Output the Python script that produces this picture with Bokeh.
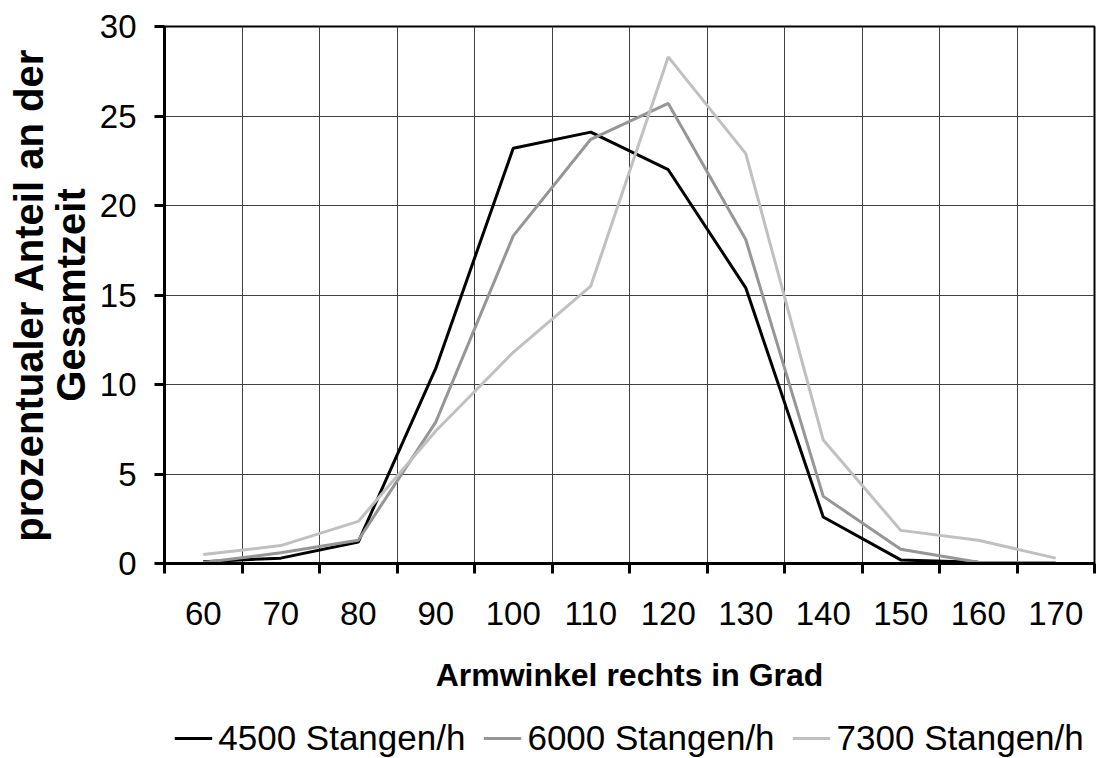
from bokeh.plotting import figure
from bokeh.layouts import column
from bokeh.models import (Range1d, FixedTicker, Legend, LegendItem, LinearAxis, Grid)
from bokeh.embed import file_html
from bokeh.resources import INLINE

# ---- data ----
categories = ["60", "70", "80", "90", "100", "110", "120", "130", "140", "150", "160", "170"]
s4500 = [0.1, 0.3, 1.2, 10.9, 23.2, 24.1, 22.0, 15.4, 2.6, 0.2, 0.07, 0.0]
s6000 = [0.05, 0.6, 1.3, 7.9, 18.3, 23.7, 25.7, 18.1, 3.75, 0.8, 0.07, 0.05]
s7300 = [0.5, 1.0, 2.35, 7.4, 11.8, 15.5, 28.3, 22.9, 6.9, 1.85, 1.3, 0.3]
series_names = ["4500 Stangen/h", "6000 Stangen/h", "7300 Stangen/h"]
series_colors = ["#000000", "#969696", "#c0c0c0"]
y_ticks = [0, 5, 10, 15, 20, 25, 30]
x_title = "Armwinkel rechts in Grad"
y_title = "prozentualer Anteil an der\nGesamtzeit"

FONT = "Liberation Sans"
n = len(categories)
xs = [i + 0.5 for i in range(n)]

p = figure(width=1096, height=700, output_backend="svg", toolbar_location=None,
           x_range=Range1d(0, n), y_range=Range1d(0, 30),
           min_border_left=164, min_border_right=2, min_border_top=26,
           min_border_bottom=137, x_axis_type=None, y_axis_type=None)
p.background_fill_color = "white"
p.border_fill_color = "white"
p.outline_line_color = "black"
p.outline_line_width = 2

# grid lines at category boundaries and y ticks
p.add_layout(Grid(dimension=0, ticker=FixedTicker(ticks=list(range(n + 1))),
                  grid_line_color="#404040", grid_line_width=1))
p.add_layout(Grid(dimension=1, ticker=FixedTicker(ticks=y_ticks),
                  grid_line_color="#404040", grid_line_width=1))

# x axis: labels at category centres, ticks at boundaries (minor ticks)
xaxis = LinearAxis(ticker=FixedTicker(ticks=xs, minor_ticks=list(range(n + 1))))
xaxis.major_label_overrides = {x: c for x, c in zip(xs, categories)}
xaxis.major_tick_out = 0
xaxis.major_tick_in = 0
xaxis.minor_tick_out = 10
xaxis.minor_tick_in = 0
xaxis.minor_tick_line_width = 3
xaxis.minor_tick_line_color = "black"
xaxis.axis_line_width = 3
xaxis.axis_line_color = "black"
xaxis.major_label_standoff = 28
xaxis.major_label_text_font = FONT
xaxis.major_label_text_font_size = "33px"
xaxis.major_label_text_color = "black"
xaxis.axis_label = x_title
xaxis.axis_label_text_font = FONT
xaxis.axis_label_text_font_size = "32px"
xaxis.axis_label_text_font_style = "bold"
xaxis.axis_label_text_color = "black"
xaxis.axis_label_standoff = 29
p.add_layout(xaxis, "below")

yaxis = LinearAxis(ticker=FixedTicker(ticks=y_ticks))
yaxis.major_tick_out = 10
yaxis.major_tick_in = 0
yaxis.major_tick_line_width = 3
yaxis.minor_tick_out = 0
yaxis.minor_tick_in = 0
yaxis.axis_line_width = 3
yaxis.major_label_standoff = 18
yaxis.major_label_text_font = FONT
yaxis.major_label_text_font_size = "33px"
yaxis.major_label_text_color = "black"
yaxis.axis_label = y_title
yaxis.axis_label_text_font = FONT
yaxis.axis_label_text_font_size = "40px"
yaxis.axis_label_text_font_style = "bold"
yaxis.axis_label_text_color = "black"
yaxis.axis_label_text_line_height = 0.95
yaxis.axis_label_standoff = 4
p.add_layout(yaxis, "left")

for name, col, vals in zip(series_names, series_colors, [s4500, s6000, s7300]):
    p.line(xs, vals, line_color=col, line_width=3)

# ---- legend strip below the chart (same side borders, so frames align) ----
pl = figure(width=1096, height=58, output_backend="svg", toolbar_location=None,
            x_range=Range1d(0, 1), y_range=Range1d(0, 1),
            min_border_left=164, min_border_right=2, min_border_top=17,
            min_border_bottom=0, x_axis_type=None, y_axis_type=None)
pl.outline_line_color = None
pl.background_fill_color = "white"
pl.border_fill_color = "white"
items = []
for name, col in zip(series_names, series_colors):
    # legend-key renderers, kept outside the visible range of this strip
    r = pl.line([0, 1], [-5, -5], line_color=col, line_width=3)
    items.append(LegendItem(label=name, renderers=[r]))
legend = Legend(items=items, orientation="horizontal", location="center",
                glyph_width=38, glyph_height=20, label_standoff=6, spacing=18,
                padding=0, margin=0, border_line_alpha=0, background_fill_alpha=0,
                label_text_font=FONT, label_text_font_size="35px",
                label_text_color="black")
pl.add_layout(legend, "center")

layout = column(p, pl, spacing=0)
open("out.html", "w").write(file_html(layout, INLINE))
